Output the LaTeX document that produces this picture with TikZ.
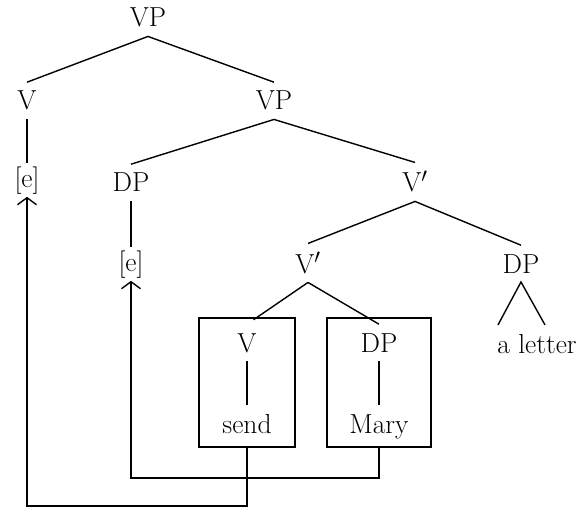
\documentclass[tikz,border=0pt]{standalone}
\usetikzlibrary{arrows.meta,calc}
\begin{document}
\begin{tikzpicture}[x=1pt,y=-1pt,
  every node/.style={font=\fontsize{27.5}{31}\selectfont},
  lbl/.style={anchor=base,inner xsep=2pt,inner ysep=9pt,outer sep=0pt},
  gap/.style={anchor=base,inner xsep=2pt,inner ysep=3pt,outer sep=0pt},
  branch/.style={line width=1.4pt},
  frame/.style={draw,line width=1.4pt,inner sep=0pt,outer sep=0pt},
  move/.style={line width=1.4pt,-{Straight Barb[length=7pt,width=19pt,line width=1.4pt]}}
]
\useasboundingbox (0,0) rectangle (584,508);

% tree labels
\node[lbl] (vp0) at (148,27) {VP};
\node[lbl] (v1) at (27,110) {V};
\node[lbl] (vp1) at (274,110) {VP};
\node[gap] (e1) at (27,187) {[e]};
\node[lbl] (dp1) at (131,192) {DP};
\node[lbl] (vb1) at (415,192) {V$'$};
\node[gap] (e2) at (131,271) {[e]};
\node[lbl] (vb2) at (308,273) {V$'$};
\node[lbl] (dp2) at (521,273) {DP};
\node[lbl] (letter) at (537,353) {a letter};

% boxed constituents
\node[frame,minimum width=96pt,minimum height=129pt] (box1) at (247,382.5) {};
\node[frame,minimum width=104pt,minimum height=129pt] (box2) at (379,382.5) {};
\node[lbl] (vin) at (247,352) {V};
\node[lbl] (dpin) at (379,352) {DP};
\node[lbl] (send) at (247,433) {send};
\node[lbl] (mary) at (379,433) {Mary};

% branches
\draw[branch] (v1.north) -- (vp0.south) -- (vp1.north);
\draw[branch] (v1.south) -- (e1.north);
\draw[branch] (dp1.north) -- (vp1.south) -- (vb1.north);
\draw[branch] (dp1.south) -- (e2.north);
\draw[branch] (vb2.north) -- (vb1.south) -- (dp2.north);
\draw[branch,shorten >=8pt] (vb2.south) -- (vin.north);
\draw[branch] (vb2.south) -- (dpin.north);
\draw[branch] ($(letter.north)+(-39,0)$) -- (dp2.south) -- ($(letter.north)+(8,0)$);
\draw[branch] (vin.south) -- (send.north);
\draw[branch] (dpin.south) -- (mary.north);

% movement paths
\coordinate (rail1) at (0,506);
\coordinate (rail2) at (0,478);
\draw[move] (box2.south) -- (box2.south |- rail2) -| (e2.south);
\draw[move] (box1.south) -- (box1.south |- rail1) -| (e1.south);
\end{tikzpicture}
\end{document}
